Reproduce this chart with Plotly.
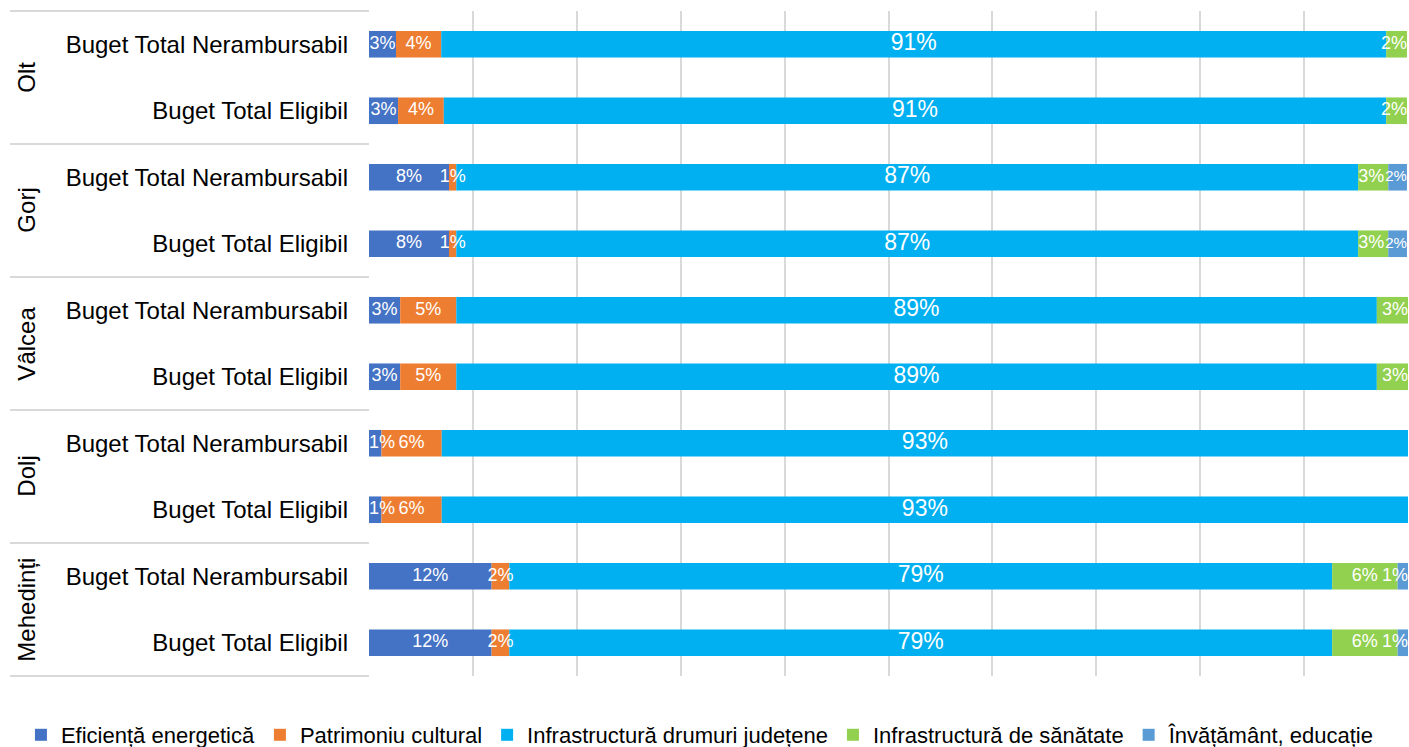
import numpy as np
import plotly.graph_objects as go

# ---- data (percent shares, rows listed top to bottom) ----
counties = ["Olt", "Gorj", "Vâlcea", "Dolj", "Mehedinți"]
budget_types = ["Buget Total Nerambursabil", "Buget Total Eligibil"]

series_names = [
    "Eficiență energetică",
    "Patrimoniu cultural",
    "Infrastructură drumuri județene",
    "Infrastructură de sănătate",
    "Învățământ, educație",
]
eficienta = [2.6, 2.8, 7.7, 7.7, 3.0, 3.0, 1.2, 1.2, 11.8, 11.8]
patrimoniu = [4.35, 4.4, 0.7, 0.7, 5.4, 5.4, 5.8, 5.8, 1.7, 1.7]
drumuri = [90.95, 90.7, 86.8, 86.8, 88.6, 88.6, 93.0, 93.0, 79.2, 79.2]
sanatate = [2.0, 2.0, 2.9, 2.9, 3.0, 3.0, 0.0, 0.0, 6.3, 6.3]
educatie = [0.0, 0.0, 1.8, 1.8, 0.0, 0.0, 0.0, 0.0, 1.0, 1.0]

# ---- styles ----
colors = ["#4472C4", "#ED7D31", "#00B0F0", "#92D050", "#5B9BD5"]
label_sizes = [18, 18, 23, 18, 18]
FONT = "Liberation Sans, Arial, sans-serif"

series_values = [eficienta, patrimoniu, drumuri, sanatate, educatie]
row_labels = [b for c in counties for b in budget_types]
rows = list(range(len(row_labels)))
n = len(rows)
vals = np.array(series_values) / 100.0          # shape (series, rows)
starts = np.vstack([np.zeros(n), np.cumsum(vals, axis=0)[:-1]])
ends = starts + vals

fig = go.Figure()

# bars
for k, name in enumerate(series_names):
    fig.add_trace(go.Bar(
        y=rows, x=vals[k], base=starts[k], orientation="h", name=name,
        marker=dict(color=colors[k], line=dict(width=0)), width=0.4,
        hoverinfo="skip",
    ))

# data labels (kept inside the plot near its edges, like the original)
lab_x, lab_y, lab_t, lab_pos, lab_size = [], [], [], [], []
for r in rows:
    nz = [k for k in range(len(series_names)) if vals[k, r] > 0]
    last = nz[-1]
    for k in nz:
        v = vals[k, r]
        x, pos, fs = starts[k, r] + v / 2, "middle center", label_sizes[k]
        if k == nz[0] and v < 0.02:
            x, pos = starts[k, r], "middle right"
        if k == last and v < 0.05:
            x, pos = ends[k, r], "middle left"
            if len(nz) > 1 and vals[nz[-2], r] < 0.05:
                fs = 15
        if len(nz) > 1 and k == nz[-2] and v < 0.05 and vals[last, r] < 0.03:
            x, pos = starts[k, r], "middle right"
        lab_x.append(x); lab_y.append(r)
        lab_t.append(f"{int(np.floor(v * 100 + 0.5))}%")
        lab_pos.append(pos); lab_size.append(fs)

fig.add_trace(go.Scatter(
    x=lab_x, y=lab_y, mode="text", text=lab_t, textposition=lab_pos,
    textfont=dict(color="white", size=lab_size, family=FONT),
    showlegend=False, hoverinfo="skip", cliponaxis=True,
))

# group labels (rotated) and separators in the label area
for g, c in enumerate(counties):
    fig.add_annotation(
        x=-0.330, xref="paper", y=2 * g + 0.5, yref="y",
        text=c, textangle=-90, showarrow=False,
        font=dict(size=24, color="#000000", family=FONT),
        xanchor="center", yanchor="middle",
    )
for g in range(len(counties) + 1):
    yp = 1 - g * 2 / n
    fig.add_shape(type="line", xref="paper", yref="paper",
                  x0=-0.3455, x1=0, y0=yp, y1=yp,
                  line=dict(color="#D9D9D9", width=2))

fig.update_layout(
    width=1409, height=747,
    margin=dict(l=369, r=1, t=11, b=71, autoexpand=False),
    paper_bgcolor="white", plot_bgcolor="white",
    barmode="overlay",
    font=dict(family=FONT, color="#000000"),
    xaxis=dict(range=[0, 1], dtick=0.1, tick0=0, showticklabels=False,
               showgrid=True, gridcolor="#D9D9D9", gridwidth=2,
               zeroline=False, showline=False, fixedrange=True),
    yaxis=dict(range=[n - 0.5, -0.5], tickmode="array", tickvals=rows,
               ticktext=row_labels, ticks="", ticklabelstandoff=20,
               tickfont=dict(size=24, color="#000000", family=FONT),
               showgrid=False, zeroline=False, showline=False),
    legend=dict(orientation="h", xref="paper", yref="paper",
                x=-0.335, xanchor="left", y=-0.0887, yanchor="middle",
                font=dict(size=22, color="#000000", family=FONT),
                itemclick=False, traceorder="normal"),
    showlegend=True,
)

fig.write_html(
    "out.html",
    config={"displayModeBar": False},
    post_script="document.body.style.margin='0';"
                "document.body.style.overflow='hidden';",
)
